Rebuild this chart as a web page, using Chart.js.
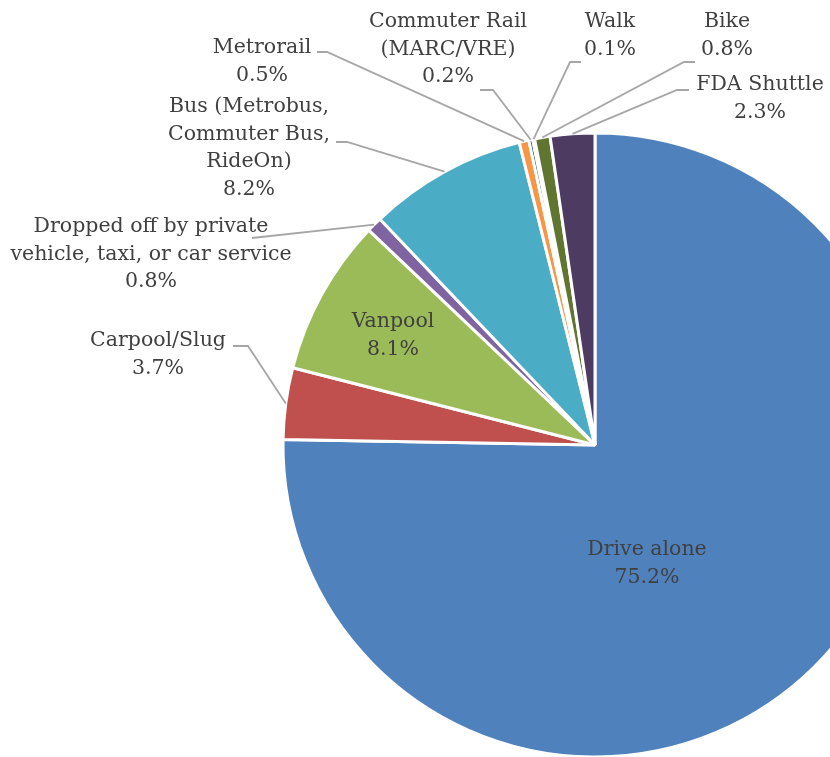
<!DOCTYPE html>
<html>
<head>
<meta charset="utf-8">
<script src="https://cdn.jsdelivr.net/npm/chart.js@4/dist/chart.umd.min.js"></script>
<style>
  html, body { margin: 0; padding: 0; background: #fff; }
  #wrap { width: 830px; height: 757px; overflow: hidden; position: relative; }
  #wrap canvas { position: absolute; left: 0; top: 0; }
</style>
</head>
<body>
<div id="wrap"><canvas id="modeChart" width="1000" height="800"></canvas></div>
<script>
/* ── Data ───────────────────────────────────────────────────── */
const categories = [
  ['Drive alone'],
  ['Carpool/Slug'],
  ['Vanpool'],
  ['Dropped off by private', 'vehicle, taxi, or car service'],
  ['Bus (Metrobus,', 'Commuter Bus,', 'RideOn)'],
  ['Metrorail'],
  ['Commuter Rail', '(MARC/VRE)'],
  ['Walk'],
  ['Bike'],
  ['FDA Shuttle'],
];
const shares = [75.2, 3.7, 8.1, 0.8, 8.2, 0.5, 0.2, 0.1, 0.8, 2.3];
const sliceColors = [
  '#4F81BD', '#C0504D', '#9BBB59', '#8064A2', '#4BACC6',
  '#F79646', '#2C4D75', '#772C2A', '#5F7530', '#4D3B62',
];

/* ── Label layout (text centre of first line, leader start + elbow) ── */
const labelLayout = [
  { x: 647, y: 550, leader: null },
  { x: 158, y: 341, leader: [[233, 346], [248, 346]] },
  { x: 393, y: 322, leader: null },
  { x: 151, y: 227, leader: [[252, 238], [252, 238]] },
  { x: 249, y: 107, leader: [[336, 142], [347, 142]] },
  { x: 262, y: 48,  leader: [[317, 52], [327, 52]] },
  { x: 448, y: 22,  leader: [[480, 90], [493, 90]] },
  { x: 610, y: 22,  leader: [[581, 62], [570, 62]] },
  { x: 727, y: 22,  leader: [[695, 62], [684, 62]] },
  { x: 760, y: 85,  leader: [[689, 90], [677, 90]] },
];
const LINE_H = 27.5;
const TEXT_COLOR = '#404040';
const FONT = '20.5px "DejaVu Serif", Georgia, serif';

/* ── Labels + leader lines ──────────────────────────────────── */
const pieLabels = {
  id: 'pieLabels',
  afterDatasetsDraw(chart) {
    const ctx = chart.ctx;
    const meta = chart.getDatasetMeta(0);
    ctx.save();
    meta.data.forEach((arc, i) => {
      const lay = labelLayout[i];
      const lines = [...categories[i], shares[i].toFixed(1) + '%'];

      if (lay.leader) {
        const mid = (arc.startAngle + arc.endAngle) / 2;
        const px = arc.x + Math.cos(mid) * arc.outerRadius;
        const py = arc.y + Math.sin(mid) * arc.outerRadius;
        ctx.strokeStyle = '#A6A6A6';
        ctx.lineWidth = 1.8;
        ctx.beginPath();
        ctx.moveTo(lay.leader[0][0], lay.leader[0][1]);
        ctx.lineTo(lay.leader[1][0], lay.leader[1][1]);
        ctx.lineTo(px, py);
        ctx.stroke();
      }

      ctx.fillStyle = TEXT_COLOR;
      ctx.font = FONT;
      ctx.textAlign = 'center';
      ctx.textBaseline = 'middle';
      lines.forEach((t, k) => ctx.fillText(t, lay.x, lay.y + k * LINE_H));
    });
    ctx.restore();
  },
};

new Chart(document.getElementById('modeChart'), {
  type: 'pie',
  data: {
    labels: categories.map(c => c.join(' ')),
    datasets: [{
      data: shares,
      backgroundColor: sliceColors,
      borderColor: '#fff',
      borderWidth: 3,
      hoverBorderWidth: 3,
    }],
  },
  options: {
    responsive: false,
    animation: false,
    events: [],
    layout: { padding: { left: 281.5, top: 131.5, right: 91.5, bottom: 41.5 } },
    plugins: {
      legend: { display: false },
      tooltip: { enabled: false },
    },
  },
  plugins: [pieLabels],
});
</script>
</body>
</html>
